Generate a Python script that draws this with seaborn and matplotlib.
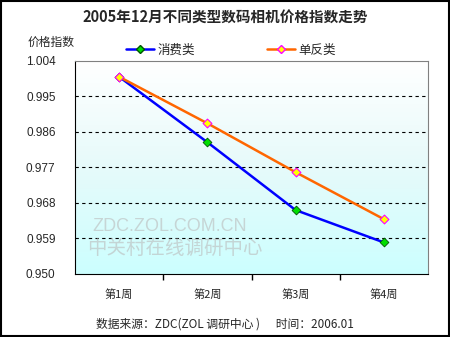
import numpy as np
import pandas as pd
import matplotlib
matplotlib.use("Agg")
import matplotlib.pyplot as plt
import seaborn as sns
from matplotlib.patches import Rectangle
from matplotlib.lines import Line2D
from matplotlib.colors import LinearSegmentedColormap

weeks = ["第1周", "第2周", "第3周", "第4周"]
consumer = [1.000, 0.9834, 0.9662, 0.9580]
slr = [1.000, 0.9882, 0.9758, 0.9639]
yticks = [0.950, 0.959, 0.968, 0.977, 0.986, 0.995, 1.004]
series_names = ["消费类", "单反类"]

sns.set_theme(style="white")
plt.rcParams['font.family'] = ['Noto Sans CJK SC', 'DejaVu Sans']

df = pd.DataFrame({
    "week": weeks * 2,
    "x": list(range(len(weeks))) * 2,
    "value": consumer + slr,
    "series": [series_names[0]] * 4 + [series_names[1]] * 4,
})

fig = plt.figure(figsize=(4.5, 3.37), dpi=100)
fig.patch.set_facecolor("white")
ax = fig.add_axes([75/450, 1-274/337, (428-75)/450, (274-61)/337])

# gradient background
grad = np.linspace(0, 1, 256).reshape(-1, 1)
cmap = LinearSegmentedColormap.from_list("bg", ["#CCFFFF", "#E6FAFA", "#FFFFFF"])
ax.imshow(grad, aspect="auto", cmap=cmap, origin="lower",
          extent=[-0.5, 3.5, 0.950, 1.004], zorder=0)

for t in yticks[1:-1]:
    ax.axhline(t, color="black", lw=0.8, ls=(0, (3, 3)), zorder=1)

palette = {series_names[0]: "#0000FF", series_names[1]: "#FF6600"}
sns.lineplot(data=df, x="x", y="value", hue="series", palette=palette,
             lw=1.8, ax=ax, legend=False, zorder=3, sort=False)
ax.scatter(range(4), consumer, marker="D", s=20, facecolor="#00DD00",
           edgecolor="#005500", lw=0.6, zorder=4)
ax.scatter(range(4), slr, marker="D", s=20, facecolor="#FFFF00",
           edgecolor="#FF00FF", lw=0.8, zorder=4)

ax.set_xlim(-0.5, 3.5)
ax.set_ylim(0.950, 1.004)
ax.set_yticks(yticks)
ax.set_yticklabels([f"{t:.3f}" for t in yticks], family="Liberation Sans", fontsize=8.5)
ax.set_xticks(range(4))
ax.set_xticklabels(weeks, fontsize=8)
ax.set_xticks([0.5, 1.5, 2.5], minor=True)
ax.tick_params(axis="x", which="major", length=0, pad=11)
ax.tick_params(axis="x", which="minor", length=4, color="black", direction="out", bottom=True)
ax.tick_params(axis="y", length=0, pad=14)
ax.set_xlabel("")
ax.set_ylabel("")
for s in ["top", "right"]:
    ax.spines[s].set_color("#808080")
    ax.spines[s].set_linewidth(0.8)
for s in ["left", "bottom"]:
    ax.spines[s].set_color("black")
    ax.spines[s].set_linewidth(0.8)

# watermark
ax.text(0.05, 0.2, "ZDC.ZOL.COM.CN", transform=ax.transAxes, fontsize=13,
        color="#BBBBBB", alpha=0.6, family="Liberation Sans", zorder=2)
ax.text(0.035, 0.095, "中关村在线调研中心", transform=ax.transAxes, fontsize=14,
        color="#BBBBBB", alpha=0.6, zorder=2)

fig.text(0.5, 1-17/337, "2005年12月不同类型数码相机价格指数走势", ha="center", va="center",
         fontsize=10.5, fontweight="bold")
fig.text(28/450, 1-42/337, "价格指数", ha="left", va="center", fontsize=8.5)

# legend
handles = [
    Line2D([0], [0], color="#0000FF", lw=1.8, marker="D", markersize=4,
           markerfacecolor="#00DD00", markeredgecolor="#005500"),
    Line2D([0], [0], color="#FF6600", lw=1.8, marker="D", markersize=4,
           markerfacecolor="#FFFF00", markeredgecolor="#FF00FF"),
]
fig.legend(handles, series_names, loc="center", bbox_to_anchor=(231/450, 1-50/337),
           ncol=2, frameon=False, fontsize=9, handlelength=2.2, columnspacing=5.8,
           handletextpad=0.3)

fig.text(0.5, 1-324/337, "数据来源：ZDC(ZOL 调研中心 )      时间：2006.01", ha="center",
         va="center", fontsize=8.5)

fig.add_artist(Rectangle((0.002, 0.003), 0.995, 0.994, transform=fig.transFigure,
                         fill=False, edgecolor="black", lw=1.5))

fig.savefig("out.png", dpi=100)
